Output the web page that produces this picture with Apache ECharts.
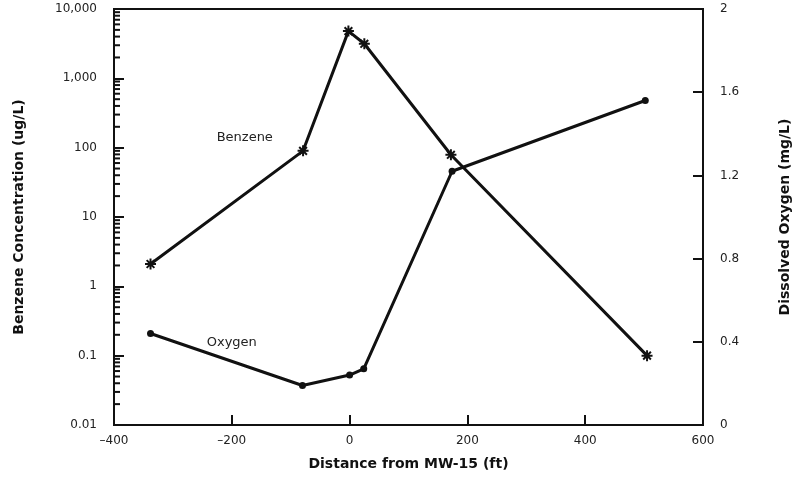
<!DOCTYPE html>
<html>
<head>
<meta charset="utf-8">
<script src="https://cdn.jsdelivr.net/npm/echarts@6/dist/echarts.min.js"></script>
<style>
  html, body { margin: 0; padding: 0; background: #fff; }
  #chart { width: 796px; height: 477px; }
</style>
</head>
<body>
<div id="chart"></div>
<script>
// Distance from MW-15 (ft) for each sampling point
const benzeneDistance = [-338, -79, -2, 25, 172, 505];
// Benzene concentration (ug/L)
const benzeneConc = [2.1, 90, 4800, 3150, 79, 0.1];

const oxygenDistance = [-338, -80, 0, 24, 174, 502];
// Dissolved oxygen (mg/L)
const oxygenConc = [0.44, 0.19, 0.24, 0.27, 1.22, 1.56];

const xTicks = [-400, -200, 0, 200, 400, 600];
const leftTicks = ['0.01', '0.1', '1', '10', '100', '1,000', '10,000'];
const rightTicks = [0, 0.4, 0.8, 1.2, 1.6, 2];

const ink = '#111';
const font = 'DejaVu Sans';

// minor log ticks (2..9 in every decade) for the concentration axis
const minorTickValues = [];
for (let e = -2; e < 4; e++) {
  for (let m = 2; m <= 9; m++) minorTickValues.push([xTicks[0], m * Math.pow(10, e)]);
}

// asterisk marker built from four crossing bars
const starPath = 'path://M-1.8,-10L1.8,-10L1.8,10L-1.8,10Z M-10,-1.8L10,-1.8L10,1.8L-10,1.8Z ' +
  'M-8.3,-5.7L-5.7,-8.3L8.3,5.7L5.7,8.3Z M5.7,-8.3L8.3,-5.7L-5.7,8.3L-8.3,5.7Z';

const titleStyle = { fontFamily: font, fontSize: 14, fontWeight: 'bold', color: ink };
const tickLabel = { fontSize: 12, color: '#222', fontFamily: font };

const chart = echarts.init(document.getElementById('chart'), null, { renderer: 'canvas' });

chart.setOption({
  animation: false,
  backgroundColor: '#fff',
  textStyle: { fontFamily: font },
  grid: {
    left: 114, right: 93, top: 9, bottom: 52,
    containLabel: false, outerBoundsMode: 'none',
    show: true, borderColor: ink, borderWidth: 2, backgroundColor: 'transparent'
  },
  xAxis: {
    type: 'value',
    min: xTicks[0], max: xTicks[xTicks.length - 1], interval: 200,
    name: 'Distance from MW-15 (ft)',
    nameLocation: 'middle', nameGap: 32,
    nameTextStyle: titleStyle,
    axisLine: { onZero: false, lineStyle: { color: ink, width: 2 } },
    axisTick: { inside: true, length: 10, lineStyle: { color: ink, width: 2 } },
    axisLabel: Object.assign({ margin: 10, formatter: v => String(v).replace('-', '\u2013') }, tickLabel),
    splitLine: { show: false }
  },
  yAxis: [
    {
      type: 'log', logBase: 10, min: 0.01, max: 10000,
      position: 'left',
      name: 'Benzene Concentration (ug/L)',
      nameLocation: 'middle', nameGap: 88,
      nameTextStyle: titleStyle,
      axisLine: { show: true, onZero: false, lineStyle: { color: ink, width: 2 } },
      axisTick: { inside: true, length: 10, lineStyle: { color: ink, width: 2 } },
      axisLabel: Object.assign({ margin: 17, formatter: v => leftTicks[Math.round(Math.log10(v)) + 2] }, tickLabel),
      splitLine: { show: false }
    },
    {
      type: 'value', min: 0, max: 2, interval: 0.4, position: 'right',
      name: 'Dissolved Oxygen (mg/L)',
      nameLocation: 'middle', nameGap: 75, nameRotate: 90,
      nameTextStyle: titleStyle,
      axisLine: { show: true, onZero: false, lineStyle: { color: ink, width: 2 } },
      axisTick: { inside: true, length: 10, lineStyle: { color: ink, width: 2 } },
      axisLabel: Object.assign({ margin: 17, formatter: v => rightTicks.find(t => Math.abs(t - v) < 1e-9) + '' }, tickLabel),
      splitLine: { show: false }
    }
  ],
  series: [
    {
      type: 'custom',
      name: 'minorTicks',
      silent: true,
      clip: false,
      yAxisIndex: 0,
      data: minorTickValues,
      renderItem: (params, api) => {
        const p = api.coord([api.value(0), api.value(1)]);
        return {
          type: 'line',
          shape: { x1: p[0], y1: p[1], x2: p[0] + 6, y2: p[1] },
          style: { stroke: ink, lineWidth: 2 }
        };
      }
    },
    {
      type: 'line',
      name: 'Benzene',
      yAxisIndex: 0,
      data: benzeneDistance.map((d, i) => [d, benzeneConc[i]]),
      symbol: starPath,
      symbolSize: 11,
      showAllSymbol: true,
      lineStyle: { color: ink, width: 3 },
      itemStyle: { color: ink },
      markPoint: {
        symbol: 'circle', symbolSize: 0, silent: true,
        label: { show: true, position: 'inside', formatter: 'Benzene', fontSize: 13, color: '#222', fontFamily: font },
        data: [{ coord: [-178, 138] }]
      }
    },
    {
      type: 'line',
      name: 'Oxygen',
      yAxisIndex: 1,
      data: oxygenDistance.map((d, i) => [d, oxygenConc[i]]),
      symbol: 'circle',
      symbolSize: 7,
      showAllSymbol: true,
      lineStyle: { color: ink, width: 3 },
      itemStyle: { color: ink },
      markPoint: {
        symbol: 'circle', symbolSize: 0, silent: true,
        label: { show: true, position: 'inside', formatter: 'Oxygen', fontSize: 13, color: '#222', fontFamily: font },
        data: [{ coord: [-200, 0.394] }]
      }
    }
  ]
});
</script>
</body>
</html>
